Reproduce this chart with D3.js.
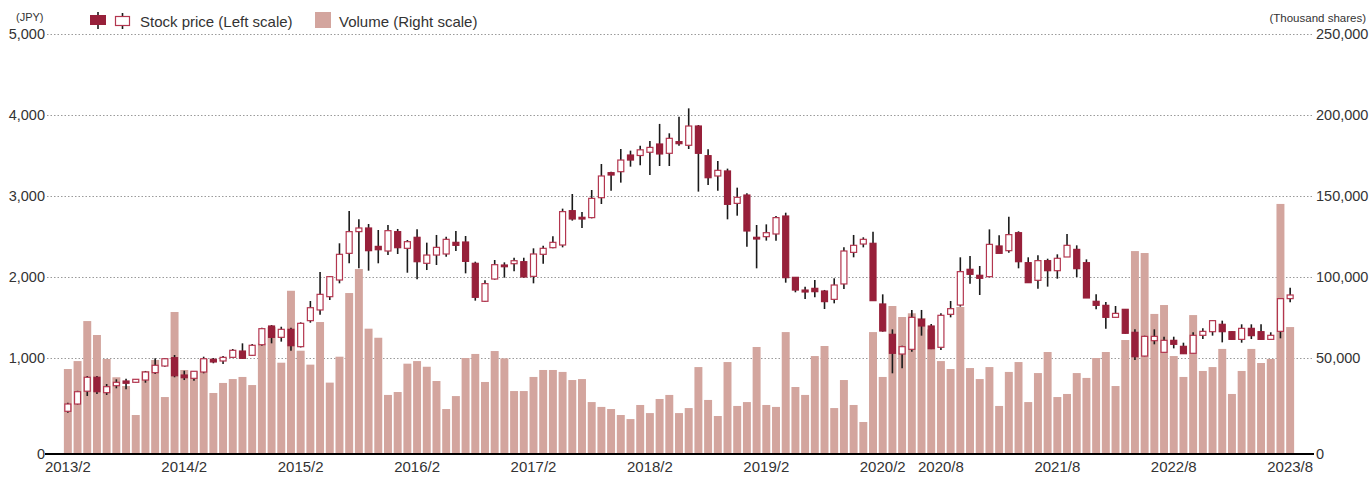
<!DOCTYPE html>
<html><head><meta charset="utf-8">
<script src="https://cdn.jsdelivr.net/npm/d3@7"></script>
<style>body{margin:0;background:#fff} text{font-family:"Liberation Sans",Arial,sans-serif}</style>
</head><body><svg id="c" width="1370" height="477"></svg>
<script>
// ---- data ----
const startYear = 2013, startMonth = 2, nMonths = 127;
const months = [];
for (let i = 0; i < nMonths; i++) { const m = startMonth - 1 + i; months.push((startYear + Math.floor(m / 12)) + "/" + (m % 12 + 1)); }

const open  = [342,432,590,762,572,658,716,700,728,819,901,1004,790,749,827,984,963,1008,1086,1033,
1164,1395,1255,1354,1140,1461,1593,1757,1963,2292,2560,2605,2378,2321,2560,2354,2490,2169,2271,2284,
2428,2432,2169,1700,1975,2148,2164,2189,2008,2280,2362,2395,2819,2737,2733,2979,3288,3300,3506,3500,
3540,3642,3527,3671,3626,3864,3498,3247,3309,2909,3012,2490,2498,2531,2753,1996,1839,1860,1827,1724,
1914,2304,2407,2416,1667,1292,1049,1107,1477,1395,1132,1539,1654,2095,2021,2004,2383,2325,2547,2177,
1959,2202,2078,2247,2341,2177,1700,1650,1502,1601,1317,1024,1214,1070,1218,1144,1058,1280,1325,1416,
1325,1230,1366,1325,1230,1329,1733];
const high  = [448,595,778,778,679,737,745,740,840,996,1000,1037,843,840,1016,1000,1025,1111,1181,1173,
1374,1407,1386,1374,1440,1704,2062,2010,2416,2815,2712,2654,2580,2642,2593,2457,2589,2424,2519,2498,
2568,2506,2189,1959,2210,2181,2238,2238,2354,2387,2502,2844,3025,2802,3074,3395,3300,3580,3560,3620,
3680,3890,3774,3979,4082,3876,3576,3432,3338,3103,3033,2642,2650,2753,2794,2000,1881,1963,1840,1984,
2366,2519,2490,2560,1786,1354,1150,1593,1593,1420,1551,1704,2243,2259,2136,2588,2514,2745,2564,2243,
2267,2226,2280,2531,2391,2218,1786,1691,1642,1605,1354,1275,1354,1263,1263,1189,1317,1366,1469,1461,
1330,1416,1416,1416,1317,1740,1868];
const low   = [325,425,531,556,543,626,613,695,695,802,893,762,728,720,811,935,926,1000,988,1025,
1152,1181,1202,1091,1130,1436,1535,1716,1922,2169,2107,2078,2169,2271,2284,2053,1971,2086,2148,2251,
2321,2045,1708,1692,1967,1992,2070,1992,1922,2164,2354,2366,2696,2605,2724,2901,3066,3165,3362,3380,
3260,3370,3370,3621,3580,3054,3136,3066,2712,2757,2374,2107,2449,2449,1930,1811,1729,1749,1605,1675,
1852,2243,2366,1708,1325,811,872,1078,1276,1110,1099,1502,1634,1918,1778,1996,2292,2300,2107,1930,
1856,1881,1979,2247,2000,1741,1601,1362,1500,1300,975,1020,1169,1065,1119,1050,1055,1234,1276,1193,
1225,1189,1234,1228,1226,1243,1687];
const close = [432,584,762,584,646,700,688,737,827,910,991,781,757,836,991,951,1008,1095,996,1157,
1362,1255,1354,1152,1428,1621,1786,2004,2280,2560,2605,2325,2337,2572,2362,2436,2189,2271,2366,2465,
2391,2193,1749,1918,2152,2127,2201,2000,2284,2354,2428,2807,2716,2716,2971,3247,3259,3444,3444,3570,
3600,3519,3712,3646,3864,3527,3226,3317,2897,2984,2568,2469,2547,2733,1992,1839,1815,1819,1696,1901,
2321,2391,2465,1708,1333,1058,1140,1502,1395,1115,1527,1609,2066,2033,1984,2403,2292,2523,2189,1930,
2202,2078,2231,2391,2103,1741,1650,1502,1551,1305,1016,1267,1267,1218,1169,1053,1280,1329,1461,1325,
1230,1366,1276,1230,1280,1733,1778];
const volume = [43200,48100,72800,64200,49400,38100,32700,14800,42000,48800,25900,78400,42600,41800,49400,28400,34600,37000,38300,33300,
59100,69100,47100,91500,54500,45900,72200,34800,50800,90100,104900,68100,62500,27200,29000,46500,48100,44600,35800,18500,
26500,50000,52500,35200,54300,49800,29600,29600,38300,42600,42600,41400,36400,37000,22800,19800,18500,14800,12300,21000,
16000,24700,27200,16000,19100,44400,24100,14200,47500,20400,22800,56800,21000,19800,66000,32100,27200,51200,57400,19100,
36400,21000,10500,66000,38300,82100,75300,77600,74700,67700,48100,43200,81500,43800,37000,44400,20400,41400,47500,22800,
40700,53700,25900,27800,40700,37700,50000,53700,32700,61100,116000,114800,77200,82700,51200,38300,76500,42000,44400,55600,
27800,42000,55600,46900,49400,145100,69100];

const xTickLabels = ["2013/2","2014/2","2015/2","2016/2","2017/2","2018/2","2019/2","2020/2","2020/8","2021/8","2022/8","2023/8"];
const priceTicks = [1000,2000,3000,4000,5000];
const volumeTicks = [50000,100000,150000,200000,250000];

// ---- chart ----
const svg = d3.select("#c");
const left = 47, right = 1313, base = 454;
const C_UP_STROKE = "#b3364f", C_DOWN = "#97203a", C_VOL = "#d3a59e", C_TEXT = "#333";
const FF = "Liberation Sans, Arial, sans-serif";

const x = d3.scaleBand().domain(months).range([63, 1295]).paddingInner(0.18).paddingOuter(0.09);
const yP = d3.scaleLinear().domain([0, 5000]).range([439, 34]);
const yV = d3.scaleLinear().domain([0, 250000]).range([439, 34]);

// grid + left axis
const gl = svg.append("g").attr("transform", `translate(${left},0)`)
  .call(d3.axisLeft(yP).tickValues(priceTicks).tickFormat(d3.format(",")).tickSize(-(right - left)).tickPadding(2));
gl.select(".domain").remove();
gl.selectAll(".tick line").attr("stroke", "#9a9a9a").attr("stroke-dasharray", "1.5,2");
gl.selectAll(".tick text").attr("font-size", 14.5).attr("fill", C_TEXT).attr("font-family", FF);

const gr = svg.append("g").attr("transform", `translate(${right},0)`)
  .call(d3.axisRight(yV).tickValues(volumeTicks).tickFormat(d3.format(",")).tickSize(0).tickPadding(3));
gr.select(".domain").remove();
gr.selectAll(".tick text").attr("font-size", 14.5).attr("fill", C_TEXT).attr("font-family", FF);

// zero labels
svg.append("text").attr("x", left - 2).attr("y", base).attr("dy", "0.35em").attr("text-anchor", "end")
  .attr("font-size", 14.5).attr("fill", C_TEXT).text("0");
svg.append("text").attr("x", right + 3).attr("y", base).attr("dy", "0.35em")
  .attr("font-size", 14.5).attr("fill", C_TEXT).text("0");

// volume bars
svg.append("g").selectAll("rect").data(months).join("rect")
  .attr("x", d => x(d)).attr("width", x.bandwidth())
  .attr("y", (d, i) => yV(volume[i])).attr("height", (d, i) => base - yV(volume[i]))
  .attr("fill", C_VOL);

// baseline
svg.append("line").attr("x1", left - 2).attr("x2", right + 1).attr("y1", base).attr("y2", base)
  .attr("stroke", "#000").attr("stroke-width", 2);

// x axis
const gx = svg.append("g").attr("transform", `translate(0,${base})`)
  .call(d3.axisBottom(x).tickValues(xTickLabels).tickSize(0).tickPadding(7));
gx.select(".domain").remove();
gx.selectAll(".tick text").attr("font-size", 15).attr("fill", C_TEXT).attr("font-family", FF);

// candles
const bodyW = 6;
const cg = svg.append("g");
cg.selectAll("line").data(months).join("line")
  .attr("x1", d => x(d) + x.bandwidth() / 2).attr("x2", d => x(d) + x.bandwidth() / 2)
  .attr("y1", (d, i) => yP(high[i])).attr("y2", (d, i) => yP(low[i]))
  .attr("stroke", "#1a1a1a").attr("stroke-width", 1.6);
cg.selectAll("rect").data(months).join("rect")
  .attr("x", d => x(d) + x.bandwidth() / 2 - bodyW / 2).attr("width", bodyW)
  .attr("y", (d, i) => yP(Math.max(open[i], close[i])))
  .attr("height", (d, i) => Math.max(1.5, Math.abs(yP(open[i]) - yP(close[i]))))
  .attr("fill", (d, i) => close[i] >= open[i] ? "#fff" : C_DOWN)
  .attr("stroke", (d, i) => close[i] >= open[i] ? C_UP_STROKE : C_DOWN)
  .attr("stroke-width", 1.2);

// titles
svg.append("text").attr("x", 16).attr("y", 21).attr("font-size", 11).attr("fill", C_TEXT).text("(JPY)");
svg.append("text").attr("x", 1366).attr("y", 22).attr("text-anchor", "end").attr("font-size", 11.5).attr("fill", C_TEXT).text("(Thousand shares)");

// legend
const lg = svg.append("g");
lg.append("line").attr("x1", 98).attr("x2", 98).attr("y1", 12).attr("y2", 29).attr("stroke", "#1a1a1a").attr("stroke-width", 1.6);
lg.append("rect").attr("x", 90).attr("y", 15).attr("width", 16).attr("height", 10).attr("fill", C_DOWN);
lg.append("line").attr("x1", 122.5).attr("x2", 122.5).attr("y1", 13).attr("y2", 29).attr("stroke", "#1a1a1a").attr("stroke-width", 1.6);
lg.append("rect").attr("x", 115.5).attr("y", 16.5).attr("width", 14).attr("height", 9).attr("fill", "#fff").attr("stroke", C_UP_STROKE).attr("stroke-width", 1.2);
lg.append("text").attr("x", 140).attr("y", 27).attr("font-size", 15).attr("fill", C_TEXT).text("Stock price (Left scale)");
lg.append("rect").attr("x", 315).attr("y", 12).attr("width", 16).attr("height", 16).attr("fill", C_VOL);
lg.append("text").attr("x", 339).attr("y", 27).attr("font-size", 15).attr("fill", C_TEXT).text("Volume (Right scale)");
</script></body></html>
